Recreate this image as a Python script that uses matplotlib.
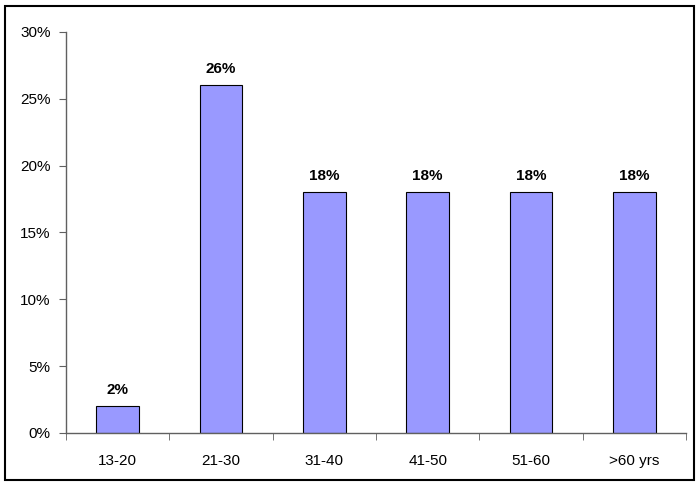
import numpy as np
import matplotlib
matplotlib.use('Agg')
import matplotlib.pyplot as plt
from matplotlib.patches import Rectangle
from matplotlib.ticker import PercentFormatter, FixedLocator

categories = ['13-20', '21-30', '31-40', '41-50', '51-60', '>60 yrs']
shares = [2, 26, 18, 18, 18, 18]
value_labels = ['2%', '26%', '18%', '18%', '18%', '18%']

plt.rcParams['font.family'] = ['Liberation Sans', 'DejaVu Sans']
plt.rcParams['font.size'] = 11

fig = plt.figure(figsize=(7, 4.82), dpi=100)
ax = fig.add_axes([0.0943, 0.1017, 0.8857, 0.832])

x = np.arange(len(categories))
bars = ax.bar(x, shares, width=0.41, color='#9999ff', edgecolor='black', linewidth=0.8)
for b, lab in zip(bars, value_labels):
    ax.text(b.get_x() + b.get_width() / 2, b.get_height() + 0.7, lab,
            ha='center', va='bottom', fontweight='bold', fontsize=11)

ax.set_xlim(-0.5, len(categories) - 0.5)
ax.set_ylim(0, 30)
ax.set_yticks(np.arange(0, 31, 5))
ax.yaxis.set_major_formatter(PercentFormatter(decimals=0))
ax.set_xticks(x)
ax.set_xticklabels(categories)
ax.xaxis.set_minor_locator(FixedLocator(np.arange(-0.5, len(categories), 1)))
ax.tick_params(axis='x', which='major', length=0, pad=15)
ax.tick_params(axis='x', which='minor', length=5, direction='out', color='#606060')
ax.tick_params(axis='y', length=5, direction='out', color='#606060', pad=6)

for s in ['top', 'right']:
    ax.spines[s].set_visible(False)
for s in ['left', 'bottom']:
    ax.spines[s].set_color('#606060')
    ax.spines[s].set_linewidth(1.0)

fig.patches.append(Rectangle((0.007, 0.004), 0.985, 0.983, transform=fig.transFigure,
                             fill=False, edgecolor='black', linewidth=1.5))

fig.savefig('out.png', dpi=100)
